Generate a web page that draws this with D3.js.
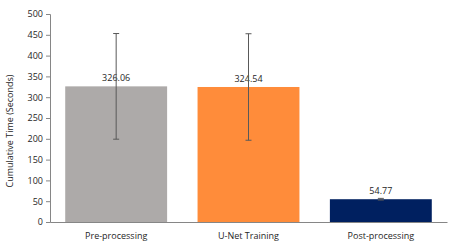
<!DOCTYPE html>
<meta charset="utf-8">
<style>
  body { margin: 0; background: #fff; }
  text { font-family: 'Open Sans', sans-serif; fill: #262626; }
  .axis path, .axis line { stroke: #868686; }
</style>
<body>
<script src="https://d3js.org/d3.v7.min.js"></script>
<script>
// chart data
var categories = ["Pre-processing", "U-Net Training", "Post-processing"];
var means = [326.06, 324.54, 54.77];
var errors = [127, 128, 2];
var barColors = ["#ADAAA9", "#FF8C3A", "#002060"];
var yTicks = [0, 50, 100, 150, 200, 250, 300, 350, 400, 450, 500];

var margin = { top: 14, right: 10, bottom: 23, left: 50 },
  width = 457 - margin.left - margin.right,
  height = 245 - margin.top - margin.bottom;

var svg = d3.select("body").append("svg")
  .attr("width", 457)
  .attr("height", 245)
  .append("g")
  .attr("transform", "translate(" + margin.left + "," + margin.top + ")");

var x = d3.scaleBand().domain(categories).range([0, width]).paddingInner(0.23).paddingOuter(0.115);
var y = d3.scaleLinear().domain([0, 500]).range([height, 0]);

// bars
svg.selectAll(".bar")
  .data(categories)
  .join("rect")
  .attr("class", "bar")
  .attr("x", function (d) { return x(d); })
  .attr("width", x.bandwidth())
  .attr("y", function (d, i) { return y(means[i]); })
  .attr("height", function (d, i) { return height - y(means[i]); })
  .attr("fill", function (d, i) { return barColors[i]; });

// value labels
svg.selectAll(".val")
  .data(categories)
  .join("text")
  .attr("class", "val")
  .attr("x", function (d) { return x(d) + x.bandwidth() / 2; })
  .attr("y", function (d, i) { return y(means[i]) - 5; })
  .attr("text-anchor", "middle")
  .style("font-size", "9px")
  .text(function (d, i) { return means[i].toFixed(2); });

// error bars
var eb = svg.selectAll(".err")
  .data(categories)
  .join("g")
  .attr("class", "err")
  .attr("stroke", "#595959")
  .attr("stroke-width", 1);
eb.append("line")
  .attr("x1", function (d) { return x(d) + x.bandwidth() / 2; })
  .attr("x2", function (d) { return x(d) + x.bandwidth() / 2; })
  .attr("y1", function (d, i) { return y(means[i] + errors[i]); })
  .attr("y2", function (d, i) { return y(means[i] - errors[i]); });
[1, -1].forEach(function (s) {
  eb.append("line")
    .attr("x1", function (d) { return x(d) + x.bandwidth() / 2 - 3; })
    .attr("x2", function (d) { return x(d) + x.bandwidth() / 2 + 3; })
    .attr("y1", function (d, i) { return y(means[i] + s * errors[i]); })
    .attr("y2", function (d, i) { return y(means[i] + s * errors[i]); });
});

// y axis
svg.append("g")
  .attr("class", "axis")
  .call(d3.axisLeft(y).tickValues(yTicks).tickSize(4).tickPadding(3))
  .call(function (g) { g.selectAll("text").style("font-size", "9px"); });

// x axis
svg.append("g")
  .attr("class", "axis")
  .attr("transform", "translate(0," + height + ")")
  .call(d3.axisBottom(x).tickSize(0).tickPadding(11))
  .call(function (g) { g.selectAll("text").style("font-size", "9px"); });

// y axis title
svg.append("text")
  .attr("transform", "rotate(-90)")
  .attr("x", -(height / 2 + 13))
  .attr("y", -37)
  .attr("text-anchor", "middle")
  .style("font-size", "9px")
  .text("Cumulative Time (Seconds)");
</script>
</body>
